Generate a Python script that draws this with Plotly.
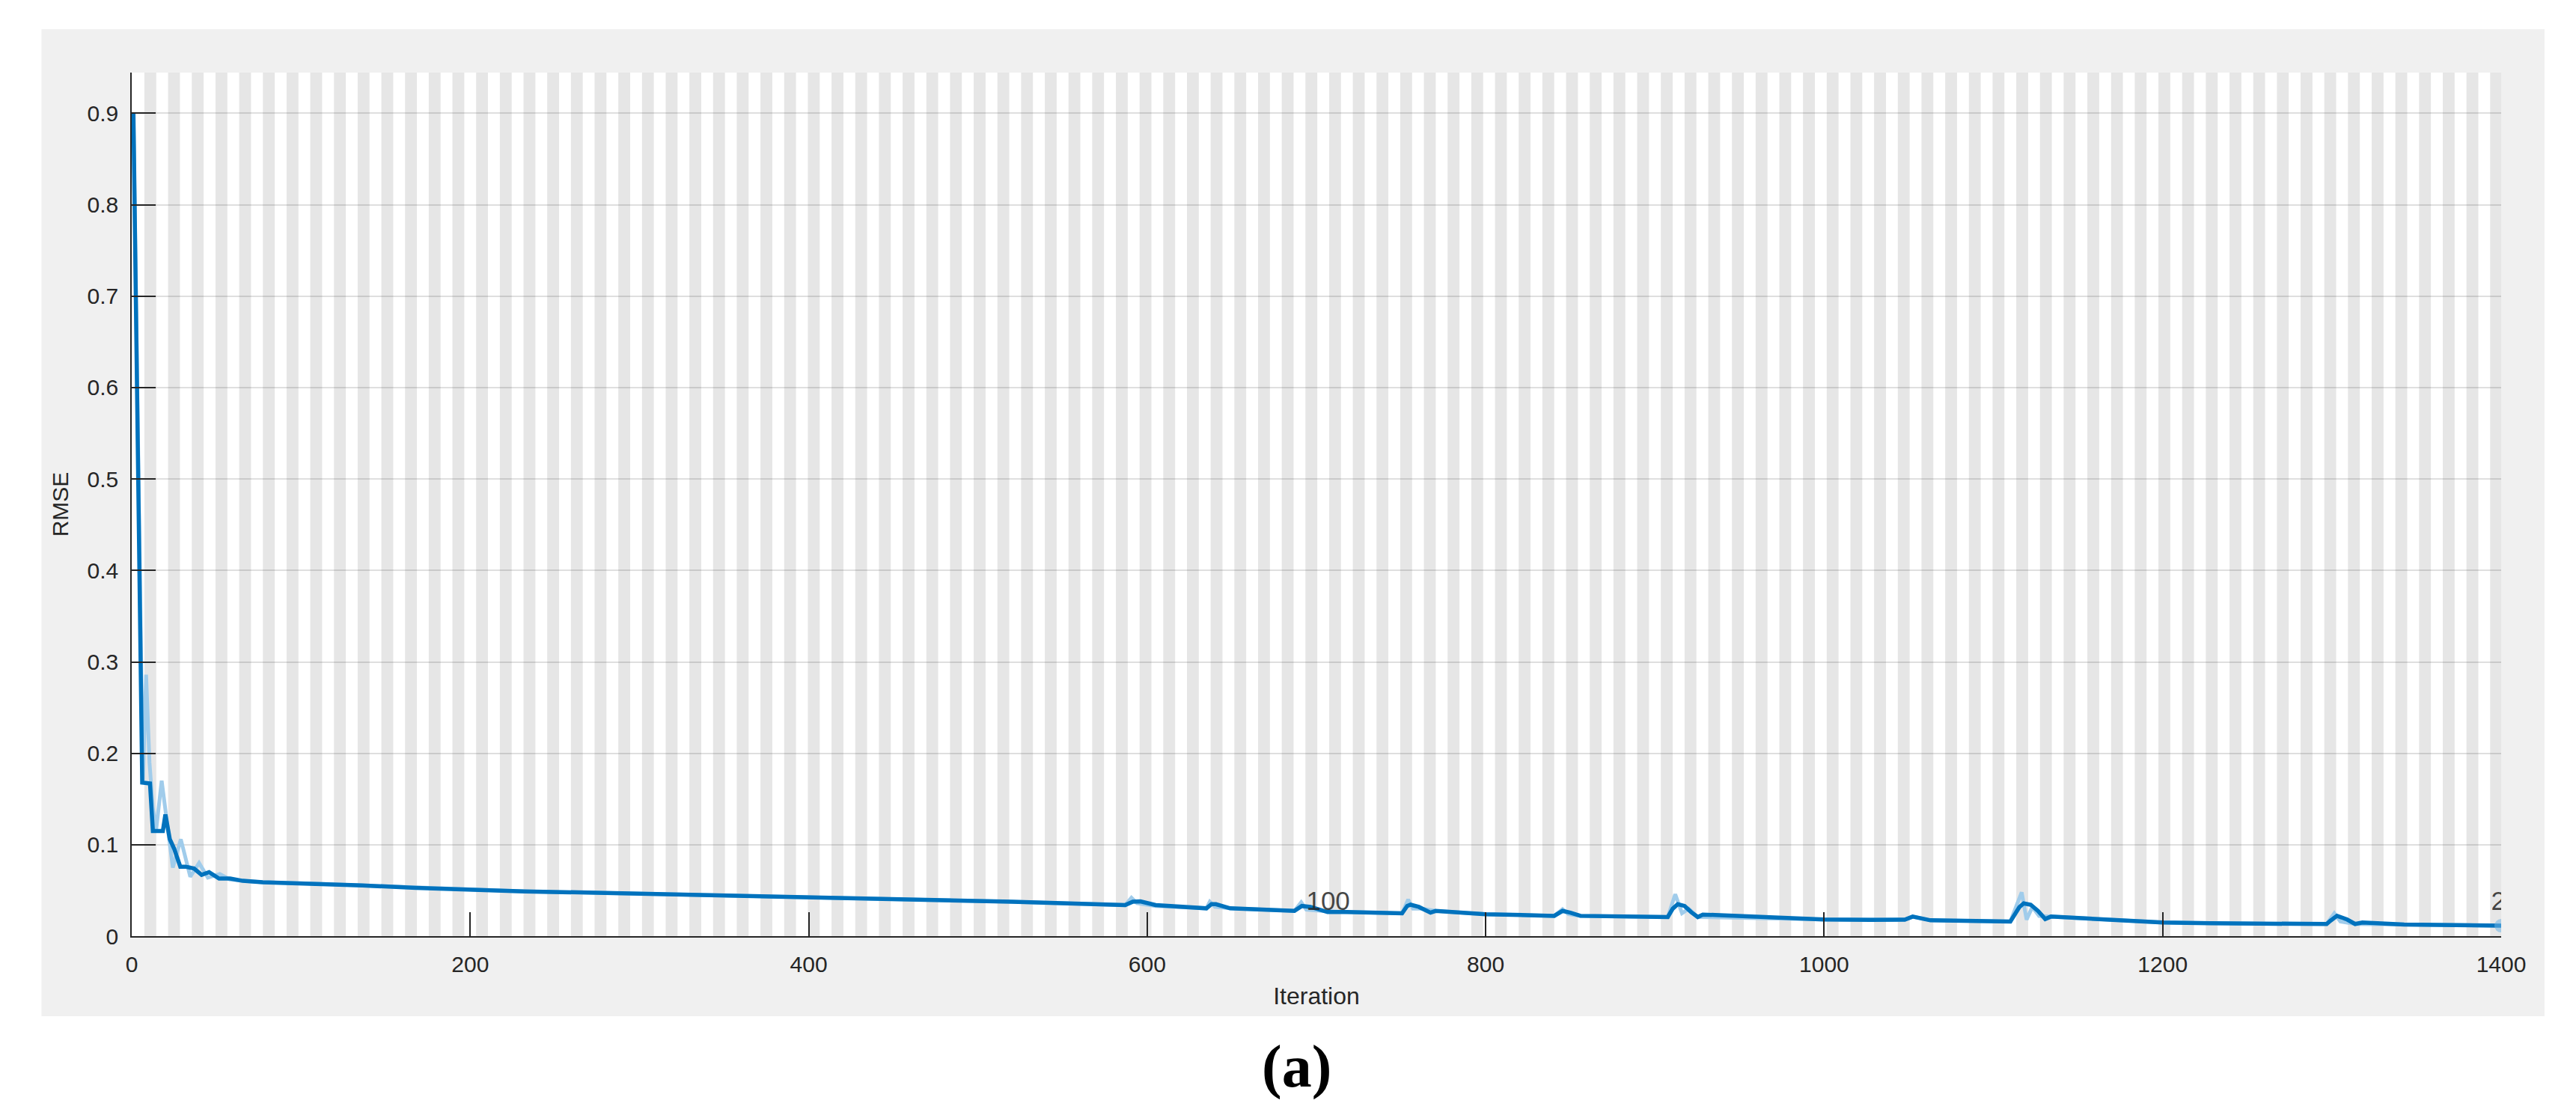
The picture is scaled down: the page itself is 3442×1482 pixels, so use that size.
import plotly.graph_objects as go

# smoothed RMSE
smooth_iter = [1, 3.3, 4.5, 5.2, 6.2, 10.8, 12.5, 18.4, 19.9, 22.5, 25, 28.7, 31.7, 36.8, 41.3, 45.7,
               51.6, 58.2, 65.6, 77.4, 106.8, 136.3, 168, 200, 232, 300, 400, 452.7, 520, 587,
               591.5, 596, 602, 605, 635, 638, 640.6, 649, 687, 691.4, 696.5, 703, 706.6, 718,
               750.6, 753.6, 755.6, 760.5, 767.4, 770.4, 800, 840.5, 845.4, 850, 856, 907.6,
               910.5, 913.5, 917.5, 921.4, 925.3, 928.3, 1000, 1027.6, 1047.6, 1052.3, 1062.8,
               1110, 1115.3, 1117.9, 1122, 1126.3, 1130.6, 1134, 1200, 1228, 1270.8, 1296.9,
               1299.1, 1303, 1309, 1313.7, 1318, 1342.7, 1400]
smooth_rmse = [0.9, 0.6, 0.4, 0.3, 0.168, 0.167, 0.115, 0.115, 0.133, 0.106, 0.096, 0.076, 0.076,
               0.074, 0.067, 0.070, 0.063, 0.063, 0.0605, 0.059, 0.0575, 0.0555, 0.0528, 0.051,
               0.049, 0.0465, 0.0425, 0.0404, 0.0377, 0.0339, 0.0377, 0.038, 0.0358, 0.034,
               0.0304, 0.035, 0.035, 0.0304, 0.0276, 0.033, 0.032, 0.0276, 0.0263, 0.0263,
               0.025, 0.033, 0.0344, 0.032, 0.0257, 0.0276, 0.024, 0.0222, 0.0276, 0.0257,
               0.0222, 0.0209, 0.030, 0.035, 0.033, 0.0263, 0.0209, 0.0236, 0.0182, 0.0178,
               0.0180, 0.0214, 0.0173, 0.016, 0.0317, 0.0358, 0.0344, 0.0276, 0.0187, 0.0214,
               0.0149, 0.0141, 0.0133, 0.0133, 0.0168, 0.0222, 0.0182, 0.0133, 0.0149, 0.0127,
               0.0114]

# raw (unsmoothed) RMSE, mostly hidden under the smoothed curve
raw_iter = [1, 3.3, 4.5, 5.2, 6.6, 8.5, 10.5, 12.5, 14.5, 17.7, 20.5, 24.3, 29, 34.6, 39.8, 45,
            52, 58, 65.6, 77.4, 106.8, 136.3, 168, 200, 232, 300, 400, 452.7, 520, 587, 590.7,
            594, 600, 605, 635, 637, 640, 649, 687, 691, 694, 703, 718, 750.6, 754.2, 757,
            762, 770.4, 800, 840.5, 845.4, 849, 856, 907.6, 912, 916, 920, 925.3, 1000, 1047.6,
            1052.3, 1062.8, 1110, 1116.7, 1119.6, 1123, 1127, 1134, 1200, 1270.8, 1296.9,
            1301.4, 1305, 1313.7, 1342.7, 1400]
raw_rmse = [0.9, 0.6, 0.4, 0.3, 0.168, 0.286, 0.19, 0.14, 0.117, 0.170, 0.13, 0.075, 0.106, 0.065,
            0.080, 0.064, 0.068, 0.062, 0.0605, 0.059, 0.0575, 0.0555, 0.0528, 0.051, 0.049,
            0.0465, 0.0425, 0.0404, 0.0377, 0.0339, 0.042, 0.036, 0.034, 0.033, 0.0304, 0.0377,
            0.032, 0.0304, 0.0276, 0.037, 0.029, 0.0276, 0.0263, 0.025, 0.040, 0.030, 0.030,
            0.0276, 0.024, 0.0222, 0.0295, 0.024, 0.0222, 0.0209, 0.0458, 0.025, 0.030, 0.0209,
            0.0182, 0.0180, 0.0214, 0.0173, 0.016, 0.048, 0.018, 0.032, 0.022, 0.0214, 0.0149,
            0.0133, 0.0133, 0.025, 0.016, 0.0133, 0.0127, 0.0114]

x_ticks = [0, 200, 400, 600, 800, 1000, 1200, 1400]
y_ticks = [0, 0.1, 0.2, 0.3, 0.4, 0.5, 0.6, 0.7, 0.8, 0.9]
n_epochs = 200
iters_per_epoch = 7
epoch_labels = ["100", "200"]
epoch_label_iter = [700, 1400]

txt = "#262626"
font_sans = "Liberation Sans, Arial, sans-serif"

fig = go.Figure()

fig.add_trace(go.Scatter(x=raw_iter, y=raw_rmse, mode="lines",
                         line=dict(color="rgb(160,204,235)", width=5), showlegend=False))
fig.add_trace(go.Scatter(x=smooth_iter, y=smooth_rmse, mode="lines",
                         line=dict(color="#0072BD", width=5.5), showlegend=False))
# final value marker
fig.add_trace(go.Scatter(x=[smooth_iter[-1]], y=[smooth_rmse[-1]], mode="markers",
                         marker=dict(size=18, color="rgba(110,180,230,0.55)", line_width=0),
                         showlegend=False))
# epoch numbers
fig.add_trace(go.Scatter(x=[i - 6 for i in epoch_label_iter], y=[0.036] * len(epoch_labels),
                         mode="text", text=epoch_labels, textposition="middle right",
                         textfont=dict(family=font_sans, size=35, color="rgba(38,38,38,0.85)"),
                         cliponaxis=True, showlegend=False))

shapes = []
# grey figure panel
shapes.append(dict(type="rect", xref="paper", yref="paper", x0=-0.0381, x1=1.0183,
                   y0=-0.0927, y1=1.0503, fillcolor="#f0f0f0", line_width=0, layer="below"))
# white plot area
shapes.append(dict(type="rect", xref="x", yref="y domain", x0=0, x1=1400, y0=0, y1=1,
                   fillcolor="white", line_width=0, layer="below"))
# alternate epoch shading
for e in range(2, n_epochs + 1, 2):
    shapes.append(dict(type="rect", xref="x", yref="y domain",
                       x0=(e - 1) * iters_per_epoch + 0.5, x1=e * iters_per_epoch + 0.5,
                       y0=0, y1=1, fillcolor="#e6e6e6", line_width=0, layer="below"))

# page body has an 8px margin, so the figure is shifted up/left by that much
fig.update_layout(
    width=3434, height=1474, autosize=False,
    margin=dict(l=168, r=100, t=89, b=231),
    paper_bgcolor="white", plot_bgcolor="white",
    shapes=shapes,
    font=dict(family=font_sans, size=30, color=txt),
    annotations=[dict(text="<b>(a)</b>", xref="paper", yref="paper", x=0.4915, y=-0.1508,
                      xanchor="center", yanchor="middle", showarrow=False,
                      font=dict(family="Liberation Serif, Times New Roman, serif", size=80,
                                color="black"))],
)

fig.update_xaxes(range=[0, 1400], tickvals=x_ticks, ticks="inside", ticklen=32, tickwidth=1.5,
                 tickcolor=txt, showline=True, linecolor=txt, linewidth=1.5, showgrid=False,
                 zeroline=False, tickfont=dict(size=30, color=txt), ticklabelstandoff=10,
                 title=dict(text="Iteration", font=dict(size=32, color=txt), standoff=16))
fig.update_yaxes(range=[0, 0.9446], tickvals=y_ticks, ticks="inside", ticklen=32, tickwidth=1.5,
                 tickcolor=txt, showline=True, linecolor=txt, linewidth=1.5, showgrid=True,
                 gridcolor="rgba(38,38,38,0.15)", gridwidth=1.5, zeroline=False,
                 tickfont=dict(size=30, color=txt), ticklabelstandoff=10,
                 title=dict(text="RMSE", font=dict(size=30, color=txt), standoff=16))

fig.write_html("out.html")
